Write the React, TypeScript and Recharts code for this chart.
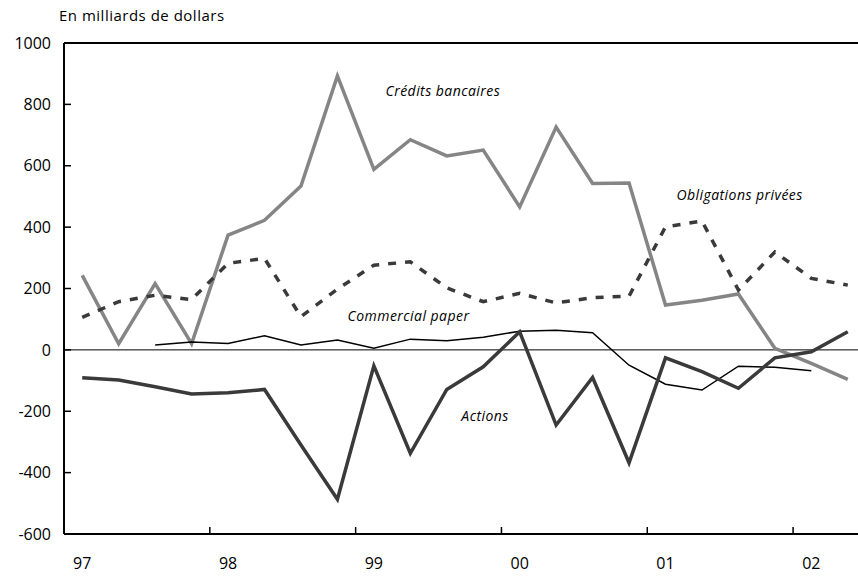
import React from "react";
import { LineChart, Line, XAxis, YAxis, ReferenceLine, ReferenceDot } from "recharts";

const quarters = [
  "97T1", "97T2", "97T3", "97T4", "98T1", "98T2", "98T3", "98T4",
  "99T1", "99T2", "99T3", "99T4", "00T1", "00T2", "00T3", "00T4",
  "01T1", "01T2", "01T3", "01T4", "02T1", "02T2",
];
const creditsBancaires = [243, 20, 216, 20, 374, 422, 534, 893, 588, 685, 632, 651, 466, 726, 542, 544, 146, 162, 182, 5, -44, -96];
const obligationsPrivees = [106, 157, 178, 164, 282, 298, 108, 198, 276, 287, 202, 157, 184, 153, 170, 175, 401, 420, 195, 319, 233, 211];
const commercialPaper = [null, null, 16, 26, 21, 46, 16, 32, 5, 35, 30, 41, 61, 64, 56, -50, -112, -131, -53, -57, -68, null];
const actions = [-91, -98, -120, -144, -140, -129, -310, -487, -52, -337, -129, -55, 59, -245, -90, -368, -26, -71, -125, -26, -6, 59];

const yearLabels = ["97", "98", "99", "00", "01", "02"];
const yearTickIdx = [0, 4, 8, 12, 16, 20];
const yearSepIdx = [3.5, 7.5, 11.5, 15.5, 19.5];
const yTicks = [-600, -400, -200, 0, 200, 400, 600, 800, 1000];

const annotations = [
  { text: "Crédits bancaires", i: 8.32, v: 844 },
  { text: "Obligations privées", i: 16.3, v: 507 },
  { text: "Commercial paper", i: 7.28, v: 113 },
  { text: "Actions", i: 10.4, v: -214 },
];

const data = quarters.map((q, i) => ({
  i,
  q,
  credits: creditsBancaires[i],
  obligations: obligationsPrivees[i],
  cp: commercialPaper[i],
  actions: actions[i],
}));

const FONT = "'Open Sans', Lato, sans-serif";

const XTick = (props: any) => {
  const { x, y, payload } = props;
  const v = payload.value;
  const k = yearTickIdx.indexOf(v);
  if (k >= 0) {
    return (
      <text x={x} y={y + 29} textAnchor="middle" dominantBaseline="central" fontFamily={FONT} fontSize={16} fill="#000">
        {yearLabels[k]}
      </text>
    );
  }
  return <line x1={x} x2={x} y1={y} y2={y - 7} stroke="#000" strokeWidth={1.5} />;
};

const AnnLabel = (text: string) => (props: any) => {
  const vb = props.viewBox || {};
  return (
    <text x={vb.x} y={vb.y} textAnchor="start" dominantBaseline="central" fontFamily={FONT} fontStyle="italic" fontSize={14} letterSpacing={0.45} fill="#000">
      {text}
    </text>
  );
};

export default function App() {
  return (
    <div style={{ position: "absolute", left: 0, top: 0, width: 858, height: 578, overflow: "hidden", background: "#fff" }}>
      <div style={{ position: "absolute", left: 59, top: 5, fontFamily: FONT, fontSize: 15, letterSpacing: 0.5, color: "#000", whiteSpace: "nowrap" }}>
        En milliards de dollars
      </div>
      <LineChart width={880} height={578} data={data} margin={{ top: 43, right: 14, bottom: 14, left: 0 }}>
        <XAxis
          dataKey="i"
          type="number"
          domain={[-0.5, 21.5]}
          allowDataOverflow
          ticks={[...yearTickIdx, ...yearSepIdx].sort((a, b) => a - b)}
          interval={0}
          tickLine={false}
          tickSize={0}
          tickMargin={0}
          tick={<XTick />}
          axisLine={{ stroke: "#000", strokeWidth: 2 }}
          height={30}
        />
        <YAxis
          type="number"
          domain={[-600, 1000]}
          ticks={yTicks}
          interval={0}
          width={64}
          tickSize={-7}
          tickMargin={20}
          tickLine={{ stroke: "#000", strokeWidth: 1.5 }}
          axisLine={{ stroke: "#000", strokeWidth: 2 }}
          tick={{ fill: "#000", fontSize: 16, fontFamily: FONT }}
        />
        <ReferenceLine y={1000} stroke="#000" strokeWidth={2} />
        <ReferenceLine y={0} stroke="#000" strokeWidth={1} />
        <Line dataKey="credits" stroke="#858585" strokeWidth={3.5} dot={false} isAnimationActive={false} />
        <Line dataKey="obligations" stroke="#3a3a3a" strokeWidth={3.5} strokeDasharray="8 9" dot={false} isAnimationActive={false} />
        <Line dataKey="cp" stroke="#000" strokeWidth={1.5} dot={false} isAnimationActive={false} />
        <Line dataKey="actions" stroke="#3a3a3a" strokeWidth={3.5} dot={false} isAnimationActive={false} />
        {annotations.map((a) => (
          <ReferenceDot key={a.text} x={a.i} y={a.v} r={0} stroke="none" fill="none" label={AnnLabel(a.text)} />
        ))}
      </LineChart>
    </div>
  );
}
